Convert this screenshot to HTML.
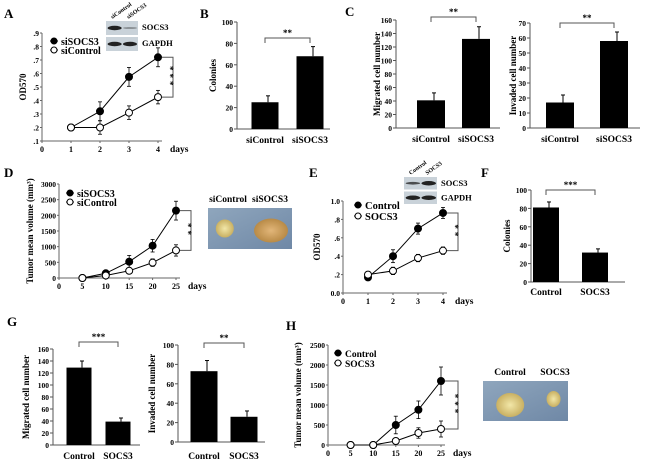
<!DOCTYPE html>
<html><head><meta charset="utf-8">
<style>
html,body{margin:0;padding:0;background:#fff;}
svg{display:block;font-family:"Liberation Serif",serif;font-weight:bold;}
</style></head>
<body>
<svg id="fig" width="650" height="464" viewBox="0 0 650 464" xmlns="http://www.w3.org/2000/svg">
<defs>
<linearGradient id="cloth" x1="0" y1="0" x2="1" y2="1"><stop offset="0" stop-color="#8fa6bd"/><stop offset="1" stop-color="#6f88a6"/></linearGradient>
<radialGradient id="tum1" cx="0.5" cy="0.5" r="0.5"><stop offset="0" stop-color="#f2e7a8"/><stop offset="1" stop-color="#c9b062"/></radialGradient>
<radialGradient id="tum2" cx="0.5" cy="0.5" r="0.5"><stop offset="0" stop-color="#e2b679"/><stop offset="1" stop-color="#b88a46"/></radialGradient>
</defs>
</svg>
<script>
// ---- Data arrays ----
// Panel A
const aDays = [1, 2, 3, 4];
const aSiSOCS3 = [0.2, 0.32, 0.575, 0.72];
const aSiSOCS3Err = [0, 0.07, 0.07, 0.07];
const aSiControl = [0.2, 0.2, 0.31, 0.425];
const aSiControlErr = [0, 0.05, 0.05, 0.05];
const aYTicks = [".1", ".2", ".3", ".4", ".5", ".6", ".7", ".8", ".9"];
const aXTicks = ["0", "1", "2", "3", "4"];
// Panel B
const bCats = ["siControl", "siSOCS3"];
const bVals = [25, 68];
const bErr = [6, 9];
const bYTicks = ["0", "20", "40", "60", "80", "100"];
// Panel C
const cCats = ["siControl", "siSOCS3"];
const cMigVals = [41, 132];
const cMigErr = [11, 18];
const cMigTicks = ["0", "20", "40", "60", "80", "100", "120", "140", "160"];
const cInvVals = [17, 58];
const cInvErr = [5, 6];
const cInvTicks = ["0", "10", "20", "30", "40", "50", "60", "70"];
// Panel D
const dDays = [5, 10, 15, 20, 25];
const dSiSOCS3 = [0, 150, 520, 1030, 2150];
const dSiSOCS3Err = [0, 50, 200, 200, 300];
const dSiControl = [0, 80, 230, 490, 880];
const dSiControlErr = [0, 30, 80, 120, 180];
const dYTicks = ["0", "500", "1000", "1500", "2000", "2500", "3000"];
const dXTicks = ["0", "5", "10", "15", "20", "25"];
// Panel E
const eDays = [1, 2, 3, 4];
const eControl = [0.17, 0.4, 0.7, 0.87];
const eControlErr = [0.02, 0.07, 0.06, 0.06];
const eSOCS3 = [0.2, 0.24, 0.38, 0.46];
const eSOCS3Err = [0.02, 0.04, 0.04, 0.04];
const eYTicks = ["0.0", ".2", ".4", ".6", ".8", "1.0"];
const eXTicks = ["0", "1", "2", "3", "4"];
// Panel F
const fCats = ["Control", "SOCS3"];
const fVals = [81, 32];
const fErr = [6, 4];
const fYTicks = ["0", "20", "40", "60", "80", "100"];
// Panel G
const gCats = ["Control", "SOCS3"];
const gMigVals = [129, 39];
const gMigErr = [11, 6];
const gMigTicks = ["0", "20", "40", "60", "80", "100", "120", "140", "160"];
const gInvVals = [73, 26];
const gInvErr = [11, 6];
const gInvTicks = ["0", "20", "40", "60", "80", "100"];
// Panel H
const hDays = [5, 10, 15, 20, 25];
const hControl = [0, 0, 500, 880, 1600];
const hControlErr = [0, 0, 220, 220, 350];
const hSOCS3 = [0, 0, 100, 300, 400];
const hSOCS3Err = [0, 0, 60, 130, 200];
const hYTicks = ["0", "500", "1000", "1500", "2000", "2500"];
const hXTicks = ["0", "5", "10", "15", "20", "25"];

const svg = document.getElementById('fig');
const NS = 'http://www.w3.org/2000/svg';
function mk(tag, attrs, parent, text) {
  const e = document.createElementNS(NS, tag);
  for (const k in attrs) e.setAttribute(k, attrs[k]);
  if (text !== undefined) e.textContent = text;
  (parent || svg).appendChild(e);
  return e;
}
function grp(name) {
  const g = mk('g', {});
  
  
  return g;
}
function txt(g, x, y, s, size, anchor, name, rot) {
  const t = mk('text', {x: x, y: y, 'font-size': size, 'text-anchor': anchor || 'middle', fill: '#000'}, g, s);
  if (rot) t.setAttribute('transform', 'rotate(' + rot + ' ' + x + ' ' + y + ')');
  
  
  return t;
}
function line(g, x1, y1, x2, y2, w, name, col) {
  const l = mk('line', {x1: x1, y1: y1, x2: x2, y2: y2, stroke: col || '#000', 'stroke-width': w || 1}, g);
  
  
  return l;
}
function errbar(g, x, y1, y2, name) {
  line(g, x, y1, x, y2, 1, name);
  line(g, x - 2, y1, x + 2, y1, 1, name + '-cap');
}
function letter(x, y, s) {
  const g = grp('panel-label-' + s.toLowerCase());
  txt(g, x, y, s, 13, 'start', 'panel-letter-' + s.toLowerCase());
}

// Bar chart
function barChart(o) {
  const g = grp(o.name);
  const ymax = parseFloat(o.ticks[o.ticks.length - 1]);
  const Y = v => o.y0 - (v / ymax) * (o.y0 - o.yTop);
  line(g, o.ax, o.yTop, o.ax, o.y0, 1, 'y-axis', '#555');
  line(g, o.ax, o.y0, o.axEnd, o.y0, 1, 'x-axis', '#555');
  o.ticks.forEach((t, i) => {
    const v = parseFloat(t);
    line(g, o.ax - 3, Y(v), o.ax, Y(v), 1, 'y-tick', '#555');
    txt(g, o.ax - 4, Y(v) + 3, t, 7.5, 'end', 'y-tick-label');
  });
  o.vals.forEach((v, i) => {
    const cx = o.centers[i];
    const r = mk('rect', {x: cx - o.bw / 2, y: Y(v), width: o.bw, height: o.y0 - Y(v), fill: '#000'}, g);
    
    
    errbar(g, cx + 3, Y(v + o.err[i]), Y(v), 'error-bar');
    txt(g, cx, o.labelY, o.cats[i], 9.5, 'middle', 'x-category-label');
  });
  txt(g, o.titleX, (o.yTop + o.y0) / 2, o.title, 9, 'middle', 'y-axis-title', -90);
  const by = o.brY;
  const c0 = o.centers[0], c1 = o.centers[1];
  mk('path', {d: `M${c0},${by + 5} V${by} H${c1} V${by + 5}`, fill: 'none', stroke: '#555', 'stroke-width': 1}, g);
  txt(g, (c0 + c1) / 2, by - 2, o.stars, 9, 'middle', 'significance-stars');
}

// Line chart
function lineChart(o) {
  const g = grp(o.name);
  const ymin = parseFloat(o.yTicks[0]), ymax = parseFloat(o.yTicks[o.yTicks.length - 1]);
  const xmin = parseFloat(o.xTicks[0]), xmax = parseFloat(o.xTicks[o.xTicks.length - 1]);
  const Y = v => o.y0 - ((v - ymin) / (ymax - ymin)) * (o.y0 - o.yTop);
  const X = v => o.x0 + ((v - xmin) / (xmax - xmin)) * (o.xEnd - o.x0);
  line(g, o.x0, o.yTop, o.x0, o.y0, 1, 'y-axis', '#666');
  line(g, o.x0, o.y0, o.xEnd + 4, o.y0, 1, 'x-axis', '#666');
  o.yTicks.forEach(t => {
    const v = parseFloat(t);
    line(g, o.x0 - 2, Y(v), o.x0, Y(v), 1, 'y-tick', '#666');
    txt(g, o.x0 - 3, Y(v) + 3, t, 7.5, 'end', 'y-tick-label');
  });
  o.xTicks.forEach(t => {
    const v = parseFloat(t);
    line(g, X(v), o.y0, X(v), o.y0 + 2, 1, 'x-tick', '#666');
    txt(g, X(v), o.y0 + 11, t, 8, 'middle', 'x-tick-label');
  });
  txt(g, o.xEnd + 12, o.y0 + 11, 'days', 9.5, 'start', 'x-axis-title');
  txt(g, o.titleX, (o.yTop + o.y0) / 2, o.title, 9, 'middle', 'y-axis-title', -90);
  o.series.forEach(s => {
    const pts = s.vals.map((v, i) => X(o.days[i]) + ',' + Y(v)).join(' ');
    mk('polyline', {points: pts, fill: 'none', stroke: '#000', 'stroke-width': 1}, g);
    s.vals.forEach((v, i) => {
      const x = X(o.days[i]);
      if (s.err[i] > 0) {
        line(g, x, Y(v + s.err[i]), x, Y(v - s.err[i]), 0.8, 'error-bar');
        line(g, x - 2, Y(v + s.err[i]), x + 2, Y(v + s.err[i]), 0.8, 'error-cap');
        line(g, x - 2, Y(v - s.err[i]), x + 2, Y(v - s.err[i]), 0.8, 'error-cap');
      }
    });
  });
  o.series.forEach(s => {
    s.vals.forEach((v, i) => {
      const c = mk('circle', {cx: X(o.days[i]), cy: Y(v), r: 3.5, fill: s.filled ? '#000' : '#fff', stroke: '#000', 'stroke-width': 1}, g);
      
      
    });
  });
  o.series.forEach((s, i) => {
    const ly = o.legY + i * o.legStep;
    line(g, o.legX - 4, ly, o.legX + 4, ly, 1, 'legend-line');
    const c = mk('circle', {cx: o.legX, cy: ly, r: 3, fill: s.filled ? '#000' : '#fff', stroke: '#000'}, g);
    
    txt(g, o.legX + 7, ly + 4, s.label, o.legSize || 10.5, 'start', 'legend-entry');
  });
  const last = o.days.length - 1;
  const y1 = Y(o.series[0].vals[last]), y2 = Y(o.series[1].vals[last]);
  const bx = o.brX;
  mk('path', {d: `M${X(o.days[last]) + 4},${y1} H${bx} V${y2} H${X(o.days[last]) + 4}`, fill: 'none', stroke: '#555', 'stroke-width': 1}, g);
  const t = txt(g, bx - 6, (y1 + y2) / 2, o.stars, 9, 'middle', 'significance-stars', 90);
  t.setAttribute('letter-spacing', '3');
}

function blot(x, y, w, h, bands, labels, cols, name) {
  const g = grp(name);
  ['SOCS3', 'GAPDH'].forEach((lab, i) => {
    const by = y + i * (h / 2 + 1);
    const r = mk('rect', {x: x, y: by, width: w, height: h / 2 - 1, fill: '#c9d2d9'}, g);
    
    bands[i].forEach((b, j) => {
      mk('ellipse', {cx: x + w * (0.27 + 0.48 * j), cy: by + (h / 2 - 1) / 2, rx: w * 0.22, ry: 2.2 * b, fill: '#222', opacity: 0.4 + 0.6 * b}, g);
    });
    txt(g, x + w + 4, by + 9, lab, 8.5, 'start', 'blot-label-' + lab.toLowerCase());
  });
  cols.forEach((c, j) => {
    const cx = x + w * (0.2 + 0.5 * j);
    txt(g, cx, y - 2, c, 6, 'start', 'blot-lane-label', -35);
  });
}

function photo(x, y, w, h, labels, tumors, name) {
  const g = grp(name);
  const r = mk('rect', {x: x, y: y, width: w, height: h, fill: 'url(#cloth)'}, g);
  
  tumors.forEach(t => mk('ellipse', {cx: x + t[0] * w, cy: y + t[1] * h, rx: t[2], ry: t[3], fill: t[4]}, g));
  labels.forEach(l => txt(g, l[0], y - 6, l[1], 9.5, 'middle', 'photo-label'));
}

// ---- Panels ----
letter(4, 18, 'A');
lineChart({name: 'panel-a-od570-chart', x0: 42, xEnd: 158, y0: 141, yTop: 33, yTicks: aYTicks, xTicks: aXTicks,
  days: aDays, title: 'OD570', titleX: 26, brX: 173, stars: '***',
  legX: 54, legY: 41, legStep: 9, legSize: 10,
  series: [{key: 'sisocs3', label: 'siSOCS3', vals: aSiSOCS3, err: aSiSOCS3Err, filled: true},
           {key: 'sicontrol', label: 'siControl', vals: aSiControl, err: aSiControlErr, filled: false}]});
blot(106, 21, 32, 30, [[1, 0.3], [1, 1]], null, ['siControl', 'siSOCS3'], 'panel-a-western-blot');

letter(200, 18, 'B');
barChart({name: 'panel-b-colonies-chart', ax: 237, axEnd: 330, y0: 129, yTop: 22, ticks: bYTicks, vals: bVals, err: bErr,
  cats: bCats, centers: [265, 310], bw: 27, labelY: 143, title: 'Colonies', titleX: 216, brY: 38, stars: '**'});

letter(345, 16, 'C');
barChart({name: 'panel-c-migration-chart', ax: 396, axEnd: 500, y0: 128, yTop: 20, ticks: cMigTicks, vals: cMigVals, err: cMigErr,
  cats: cCats, centers: [431, 476], bw: 28, labelY: 142, title: 'Migrated cell number', titleX: 380, brY: 17, stars: '**'});
barChart({name: 'panel-c-invasion-chart', ax: 530, axEnd: 640, y0: 128, yTop: 23, ticks: cInvTicks, vals: cInvVals, err: cInvErr,
  cats: cCats, centers: [560, 614], bw: 28, labelY: 142, title: 'Invaded cell number', titleX: 516, brY: 23, stars: '**'});

letter(4, 177, 'D');
lineChart({name: 'panel-d-tumor-volume-chart', x0: 59, xEnd: 176, y0: 278, yTop: 184, yTicks: dYTicks, xTicks: dXTicks,
  days: dDays, title: 'Tumor mean volume (mm³)', titleX: 33, brX: 191, stars: '**',
  legX: 70, legY: 193, legStep: 9, legSize: 10,
  series: [{key: 'sisocs3', label: 'siSOCS3', vals: dSiSOCS3, err: dSiSOCS3Err, filled: true},
           {key: 'sicontrol', label: 'siControl', vals: dSiControl, err: dSiControlErr, filled: false}]});
photo(208, 208, 84, 41, [[228, 'siControl'], [270, 'siSOCS3']],
  [[0.2, 0.5, 9, 9, 'url(#tum1)'], [0.75, 0.55, 17, 12, 'url(#tum2)']], 'panel-d-tumor-photo');

letter(309, 177, 'E');
lineChart({name: 'panel-e-od570-chart', x0: 343, xEnd: 443, y0: 293, yTop: 201, yTicks: eYTicks, xTicks: eXTicks,
  days: eDays, title: 'OD570', titleX: 320, brX: 458, stars: '**',
  legX: 358, legY: 205, legStep: 11, legSize: 10.5,
  series: [{key: 'control', label: 'Control', vals: eControl, err: eControlErr, filled: true},
           {key: 'socs3', label: 'SOCS3', vals: eSOCS3, err: eSOCS3Err, filled: false}]});
blot(404, 177, 33, 27, [[0.6, 1], [1, 1]], null, ['Control', 'SOCS3'], 'panel-e-western-blot');

letter(481, 177, 'F');
barChart({name: 'panel-f-colonies-chart', ax: 531, axEnd: 625, y0: 282, yTop: 190, ticks: fYTicks, vals: fVals, err: fErr,
  cats: fCats, centers: [546, 595], bw: 26, labelY: 295, title: 'Colonies', titleX: 510, brY: 190, stars: '***'});

letter(7, 326, 'G');
barChart({name: 'panel-g-migration-chart', ax: 53, axEnd: 140, y0: 445, yTop: 349, ticks: gMigTicks, vals: gMigVals, err: gMigErr,
  cats: gCats, centers: [79, 118], bw: 25, labelY: 459, title: 'Migrated cell number', titleX: 29, brY: 342, stars: '***'});
barChart({name: 'panel-g-invasion-chart', ax: 178, axEnd: 265, y0: 442, yTop: 345, ticks: gInvTicks, vals: gInvVals, err: gInvErr,
  cats: gCats, centers: [204, 244], bw: 27, labelY: 459, title: 'Invaded cell number', titleX: 155, brY: 343, stars: '**'});

letter(286, 330, 'H');
lineChart({name: 'panel-h-tumor-volume-chart', x0: 328, xEnd: 441, y0: 445, yTop: 345, yTicks: hYTicks, xTicks: hXTicks,
  days: hDays, title: 'Tumor mean volume (mm³)', titleX: 301, brX: 458, stars: '***',
  legX: 338, legY: 353, legStep: 10, legSize: 9.5,
  series: [{key: 'control', label: 'Control', vals: hControl, err: hControlErr, filled: true},
           {key: 'socs3', label: 'SOCS3', vals: hSOCS3, err: hSOCS3Err, filled: false}]});
photo(483, 381, 85, 40, [[510, 'Control'], [555, 'SOCS3']],
  [[0.32, 0.6, 14, 12, 'url(#tum1)'], [0.83, 0.45, 7, 8, 'url(#tum1)']], 'panel-h-tumor-photo');
</script>
</body></html>
